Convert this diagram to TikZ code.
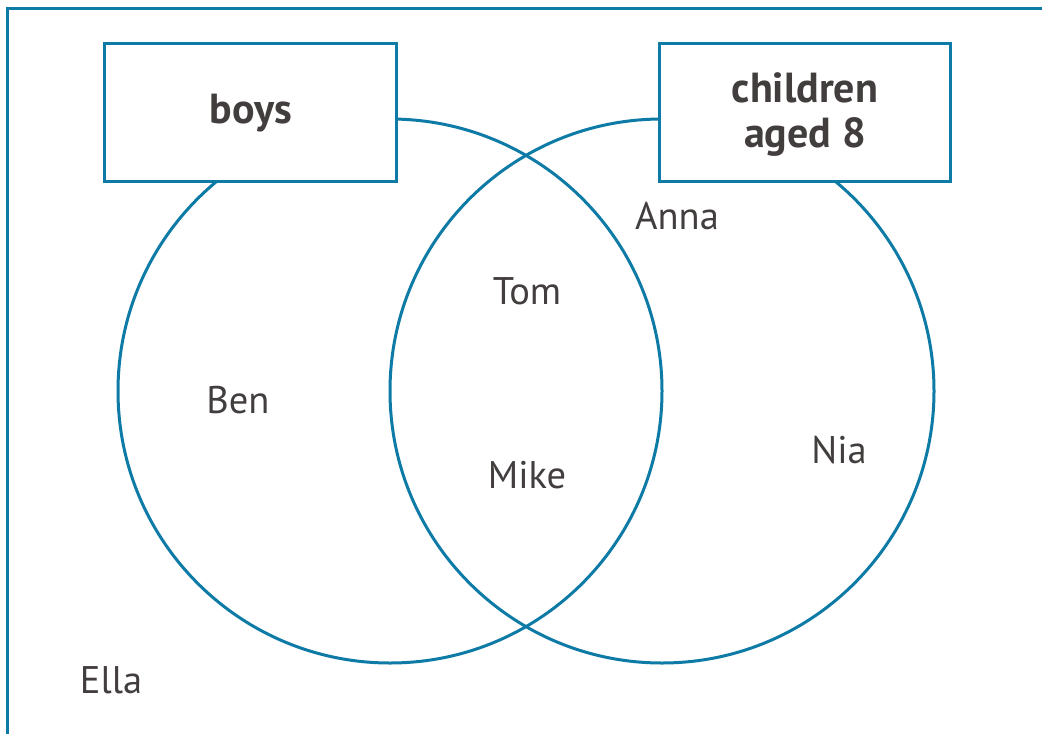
\documentclass[tikz,border=0pt]{standalone}
\usepackage{fontspec}
\setmainfont{PT Sans}
\definecolor{vennblue}{HTML}{0E7BA6}
\definecolor{txt}{HTML}{433E3E}
\begin{document}
\begin{tikzpicture}[x=1pt,y=-1pt,
  venn/.style={draw=vennblue,line width=3pt},
  labelbox/.style={draw=vennblue,line width=3pt,fill=white},
  persontext/.style={anchor=base,text=txt,font=\fontsize{38.5}{42}\selectfont,inner sep=0pt},
  setlabel/.style={anchor=base,align=center,text=txt,font=\fontsize{42}{45}\selectfont\bfseries,inner sep=0pt}]
\useasboundingbox (0,0) rectangle (1042,734);
\fill[white] (0,0) rectangle (1042,734);
% frame (top and left edges visible)
\draw[vennblue,line width=3pt] (7,734) -- (7,8) -- (1042,8);
% circles
\draw[venn] (390,391) circle[radius=272];
\draw[venn] (662,391) circle[radius=272];
% label boxes
\draw[labelbox] (104,43) rectangle (396,181);
\draw[labelbox] (659,43) rectangle (950,181);
\node[setlabel] (boys) at (251,123) {boys};
\node[setlabel] (kids) at (805,102) {children};
\node[setlabel] (kids2) at (805,147) {aged 8};
% names
\node[persontext] (ben) at (238,413) {Ben};
\node[persontext] (tom) at (527,304) {Tom};
\node[persontext] (mike) at (527,488) {Mike};
\node[persontext] (anna) at (677,229) {Anna};
\node[persontext] (nia) at (839,463) {Nia};
\node[persontext] (ella) at (111,693) {Ella};
\end{tikzpicture}
\end{document}
